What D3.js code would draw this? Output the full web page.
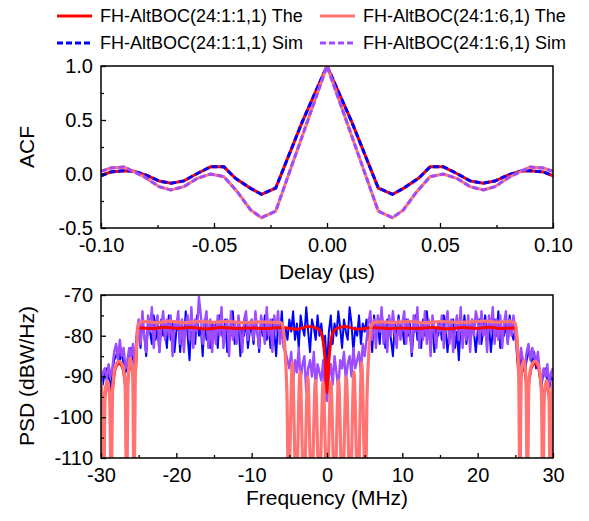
<!DOCTYPE html>
<html>
<head>
<meta charset="utf-8">
<script src="https://cdn.jsdelivr.net/npm/d3@7"></script>
<style>
  body{margin:0;background:#fff}
  svg{font-family:"Liberation Sans",Arial,sans-serif}
</style>
</head>
<body>
<svg id="chart" width="589" height="521"></svg>
<script>
// ---- data ----
const legendLabels = ['FH-AltBOC(24:1:1,1) The','FH-AltBOC(24:1:6,1) The','FH-AltBOC(24:1:1,1) Sim','FH-AltBOC(24:1:6,1) Sim']

// ACF (delay in µs)
const acfDelay11 = [-0.1,-0.0957,-0.0898,-0.0855,-0.08,-0.0743,-0.069,-0.0633,-0.0574,-0.0515,-0.0456,-0.0405,-0.0338,-0.029,-0.0227,-0.011,0,
  0.011,0.0227,0.029,0.0338,0.0405,0.0456,0.0515,0.0574,0.0633,0.069,0.0743,0.08,0.0855,0.0898,0.0957,0.1]
const acf11 = [-0.016,0.019,0.031,0.026,-0.01,-0.065,-0.086,-0.064,0.005,0.066,0.066,-0.04,-0.133,-0.188,-0.13,0.48,1.0,
  0.48,-0.13,-0.188,-0.133,-0.04,0.066,0.066,0.005,-0.064,-0.086,-0.065,-0.01,0.026,0.031,0.019,-0.016]
const acfDelay61 = [-0.1,-0.0957,-0.0898,-0.081,-0.0743,-0.0692,-0.0633,-0.0574,-0.0515,-0.0456,-0.0397,-0.0338,-0.029,-0.0227,0,
  0.0227,0.029,0.0338,0.0397,0.0456,0.0515,0.0574,0.0633,0.0692,0.0743,0.081,0.0898,0.0957,0.1]
const acf61 = [0.025,0.055,0.065,-0.025,-0.117,-0.148,-0.117,-0.04,0.0,-0.025,-0.164,-0.333,-0.405,-0.344,1.0,
  -0.344,-0.405,-0.333,-0.164,-0.025,0.0,-0.04,-0.117,-0.148,-0.117,-0.025,0.065,0.055,0.025]
const acfSim11 = acf11
const acfSim61 = acf61

// PSD theory (frequency in MHz, dBW/Hz)
const psdFreq11 = [-30,-29.65,-29.15,-28.7,-28.1,-27.6,-27.1,-26.6,-26.1,-25.6,-25.4,-25.25,-25.05,-24.8,-23,-21.5,-20,-18,-16,-14,-12,-10,-8,-6,-4,-2.5,-1.3,-0.8,-0.5,-0.25,0,
  0.25,0.5,0.8,1.3,2.5,4,6,8,10,12,14,16,18,20,21.5,23,24.8,25.05,25.25,25.4,25.6,26.1,26.6,27.1,27.6,28.1,28.7,29.15,29.65,30]
const psdThe11 = [-92,-96,-91.5,-95,-88,-86.8,-88,-93,-86,-91,-88,-82,-78.3,-78.1,-78.2,-77.9,-78.2,-78,-78.3,-78,-78.2,-78.1,-78.2,-78,-78.4,-77.7,-78.2,-79.2,-81.5,-86,-94,
  -86,-81.5,-79.2,-78.2,-77.7,-78.4,-78,-78.2,-78.1,-78.2,-78,-78.3,-78,-78.2,-77.9,-78.2,-78.1,-78.3,-82,-88,-91,-86,-93,-88,-86.8,-88,-95,-91.5,-96,-92]
const psdFreq61 = [-30,-29.85,-29.65,-29.45,-29.15,-28.85,-28.65,-28.45,-28.1,-27.6,-27.1,-26.8,-26.6,-26.4,-26.1,-25.8,-25.6,-25.45,-25.25,-25.05,-24.8,
  -24,-22.5,-21,-19,-17,-15,-13,-11,-9,-7,-6.2,-5.9,-5.7,-5.5,-5.3,-5.115,
  -4.6,-4.092,-3.58,-3.069,-2.56,-2.046,-1.53,-1.023,-0.51,0,0.51,1.023,1.53,2.046,2.56,3.069,3.58,4.092,4.6,5.115,
  5.3,5.5,5.7,5.9,6.2,7,9,11,13,15,17,19,21,22.5,24,
  24.8,25.05,25.25,25.45,25.6,25.8,26.1,26.4,26.6,26.8,27.1,27.6,28.1,28.45,28.65,28.85,29.15,29.45,29.65,29.85,30]
const psdThe61 = [-91,-96,-120,-94,-91,-95,-120,-93,-87.5,-86.3,-87.5,-92,-120,-90,-85.5,-89,-120,-90,-82,-77.3,-76.7,
  -76.5,-76.8,-76.4,-76.8,-76.5,-76.7,-76.5,-76.8,-76.6,-76.7,-76.7,-77.5,-80,-86,-96,-120,
  -86.5,-120,-88.8,-120,-90,-120,-90.8,-120,-91.3,-120,-91.3,-120,-90.8,-120,-90,-120,-88.8,-120,-86.5,-120,
  -96,-86,-80,-77.5,-76.7,-76.6,-76.7,-76.5,-76.8,-76.5,-76.7,-76.6,-76.4,-76.7,-76.5,
  -76.7,-77.3,-82,-90,-120,-89,-86,-90,-120,-92,-87.5,-86.3,-87.5,-93,-120,-95,-91,-94,-120,-96,-91]

// PSD simulation, sampled every 0.25 MHz from -30 to 30
const simStep = 0.25
const psdSim11 = [
  -90,-92,-89,-88,-90,-93,-89,-86,-85,-83,-86,-84,-87,-89,-88,-84,-83,-86,-87,-80,
  -78,-83,-76,-80,-85,-77,-79,-82,-75,-81,-78,-84,-76,-80,-79,-83,-75,-81,-77,-84,
  -79,-76,-84,-78,-81,-74,-80,-86,-77,-79,-82,-75,-80,-78,-85,-76,-81,-79,-83,-77,
  -80,-77,-83,-75,-79,-81,-76,-84,-78,-80,-74,-82,-79,-77,-85,-78,-80,-76,-83,-79,
  -78,-82,-76,-79,-84,-77,-80,-75,-81,-78,-83,-76,-79,-85,-77,-80,-74,-82,-78,-81,
  -76,-79,-74,-81,-77,-83,-75,-78,-80,-73,-79,-84,-76,-78,-81,-75,-80,-77,-82,-80,
  -88,-79,-75,-82,-77,-80,-74,-78,-83,-76,-79,-81,-73,-77,-84,-78,-80,-75,-82,-77,
  -79,-76,-81,-78,-84,-75,-80,-77,-82,-74,-79,-83,-76,-78,-81,-85,-77,-80,-75,-79,
  -78,-82,-76,-80,-77,-85,-79,-75,-81,-78,-83,-76,-80,-74,-79,-82,-77,-84,-78,-80,
  -77,-81,-75,-79,-84,-78,-80,-76,-83,-79,-86,-77,-80,-75,-82,-78,-81,-76,-79,-84,
  -79,-76,-82,-78,-75,-81,-77,-84,-79,-76,-80,-74,-83,-78,-80,-77,-82,-75,-79,-81,
  -78,-86,-88,-85,-87,-89,-86,-84,-85,-87,-84,-88,-86,-90,-92,-89,-88,-91,-93,-90,
  -91]
const psdSim61 = [
  -91,-89,-88,-91,-87,-90,-88,-84,-82,-86,-81,-85,-83,-88,-86,-83,-85,-82,-88,-79,
  -76,-82,-74,-80,-84,-75,-79,-73,-83,-77,-75,-84,-78,-74,-81,-76,-80,-75,-85,-77,
  -78,-74,-82,-76,-84,-77,-75,-81,-73,-83,-76,-79,-70.5,-75,-82,-77,-74,-83,-76,-84,
  -77,-82,-75,-80,-73,-83,-78,-76,-85,-74,-81,-77,-82,-75,-79,-84,-76,-74,-81,-77,
  -76,-81,-74,-79,-83,-75,-78,-82,-73,-80,-76,-84,-75,-79,-74,-82,-77,-83,-84,-86,
  -88,-84,-92,-86,-89,-83,-91,-87,-85,-94,-88,-86,-90,-84,-93,-87,-89,-91,-86,-95,
  -96,-90,-87,-92,-85,-89,-93,-86,-88,-84,-91,-87,-85,-90,-83,-88,-86,-84,-89,-82,
  -85,-81,-77,-74,-81,-76,-83,-75,-79,-73,-82,-77,-84,-75,-80,-74,-79,-83,-76,-81,
  -77,-74,-82,-76,-80,-84,-75,-79,-73,-83,-77,-81,-74,-82,-76,-85,-75,-79,-83,-77,
  -79,-75,-83,-77,-74,-82,-76,-84,-78,-75,-81,-73,-83,-77,-81,-75,-84,-76,-80,-74,
  -76,-82,-74,-80,-77,-84,-75,-79,-73,-82,-76,-81,-75,-83,-77,-74,-82,-76,-80,-75,
  -80,-84,-87,-83,-86,-88,-84,-82,-86,-83,-85,-87,-84,-89,-91,-88,-90,-87,-92,-89,
  -88]

// ticks
const acfXMajor = [-0.1,-0.05,0,0.05,0.1], acfXMinor = [-0.075,-0.025,0.025,0.075]
const acfYMajor = [-0.5,0,0.5,1], acfYMinor = [-0.25,0.25,0.75]
const psdXMajor = [-30,-20,-10,0,10,20,30], psdXMinor = [-25,-15,-5,5,15,25]
const psdYMajor = [-110,-100,-90,-80,-70], psdYMinor = [-105,-95,-85,-75]

// ---- styling ----
const C = { red:'#ff0000', pink:'#ff7373', blue:'#0000ff', purple:'#9d4cff' }
const legendStyle = [
  { color:C.red, dash:null }, { color:C.pink, dash:null },
  { color:C.blue, dash:'6,3' }, { color:C.purple, dash:'6,3' }
]
// plain hyphen for negatives, like the original
const fmt = spec => { const f = d3.format(spec); return v => f(v).replace('\u2212','-') }

const svg = d3.select('#chart')
const defs = svg.append('defs')

const xA = d3.scaleLinear([-0.1,0.1],[101,553])
const yA = d3.scaleLinear([-0.5,1],[228,66])
const xP = d3.scaleLinear([-30,30],[101,553])
const yP = d3.scaleLinear([-110,-70],[458,295])

function clip(id, x, y){
  defs.append('clipPath').attr('id', id).append('rect')
    .attr('x', x.range()[0]).attr('y', y.range()[1])
    .attr('width', x.range()[1]-x.range()[0]).attr('height', y.range()[0]-y.range()[1])
}
clip('clipA', xA, yA)
clip('clipP', xP, yP)

function axes(x, y, xMaj, xMin, yMaj, yMin, xFmt, yFmt){
  const g = svg.append('g')
  const bottom = y.range()[0], left = x.range()[0]
  g.append('g').attr('transform', `translate(0,${bottom})`)
    .call(d3.axisBottom(x).tickValues(xMaj).tickSizeInner(-5).tickSizeOuter(0).tickPadding(10).tickFormat(xFmt))
  g.append('g').attr('transform', `translate(0,${bottom})`)
    .call(d3.axisBottom(x).tickValues(xMin).tickSizeInner(-3).tickSizeOuter(0).tickFormat(''))
  g.append('g').attr('transform', `translate(${left},0)`)
    .call(d3.axisLeft(y).tickValues(yMaj).tickSizeInner(-5).tickSizeOuter(0).tickPadding(8).tickFormat(yFmt))
  g.append('g').attr('transform', `translate(${left},0)`)
    .call(d3.axisLeft(y).tickValues(yMin).tickSizeInner(-3).tickSizeOuter(0).tickFormat(''))
  g.selectAll('.domain').remove()
  g.selectAll('.tick line').attr('stroke','#000').attr('stroke-width',1.3)
  g.selectAll('.tick text').attr('font-size', 20).attr('fill','#000').attr('font-family','Liberation Sans, Arial, sans-serif')
  g.append('rect')
    .attr('x', left).attr('y', y.range()[1])
    .attr('width', x.range()[1]-left).attr('height', bottom-y.range()[1])
    .attr('fill','none').attr('stroke','#000').attr('stroke-width',1.5)
}

// ---- ACF panel ----
const gA = svg.append('g').attr('clip-path','url(#clipA)')
const lineOf = (xs, x, y, curve) => d3.line().x((d,i)=>x(xs[i])).y(d=>y(d)).curve(curve||d3.curveLinear)
gA.append('path').attr('d', lineOf(acfDelay11, xA, yA)(acf11))
  .attr('fill','none').attr('stroke',C.red).attr('stroke-width',3)
gA.append('path').attr('d', lineOf(acfDelay11, xA, yA)(acfSim11))
  .attr('fill','none').attr('stroke',C.blue).attr('stroke-width',3).attr('stroke-dasharray','6,3')
gA.append('path').attr('d', lineOf(acfDelay61, xA, yA)(acf61))
  .attr('fill','none').attr('stroke',C.pink).attr('stroke-width',3)
gA.append('path').attr('d', lineOf(acfDelay61, xA, yA)(acfSim61))
  .attr('fill','none').attr('stroke',C.purple).attr('stroke-width',3).attr('stroke-dasharray','6,3')

axes(xA, yA, acfXMajor, acfXMinor, acfYMajor, acfYMinor, fmt('.2f'), fmt('.1f'))

// ---- PSD panel ----
const gP = svg.append('g').attr('clip-path','url(#clipP)')
const simLine = d3.line().x((d,i)=>xP(-30 + i*simStep)).y(d=>yP(d))
gP.append('path').attr('d', simLine(psdSim11))
  .attr('fill','none').attr('stroke',C.blue).attr('stroke-width',2).attr('stroke-linejoin','round')
gP.append('path').attr('d', simLine(psdSim61))
  .attr('fill','none').attr('stroke',C.purple).attr('stroke-width',2.4).attr('stroke-linejoin','round')
gP.append('path').attr('d', lineOf(psdFreq11, xP, yP, d3.curveMonotoneX)(psdThe11))
  .attr('fill','none').attr('stroke',C.red).attr('stroke-width',3)
gP.append('path').attr('d', lineOf(psdFreq61, xP, yP, d3.curveMonotoneX)(psdThe61))
  .attr('fill','none').attr('stroke',C.pink).attr('stroke-width',3.2)

axes(xP, yP, psdXMajor, psdXMinor, psdYMajor, psdYMinor, fmt('d'), fmt('d'))

// ---- titles ----
const title = (txt, x, y, rot) => svg.append('text').text(txt)
  .attr('transform', `translate(${x},${y})` + (rot ? ' rotate(-90)' : ''))
  .attr('text-anchor','middle').attr('font-size',21).attr('fill','#000')
title('ACF', 34, 147, true)
title('Delay (\u00b5s)', 327, 279)
title('PSD (dBW/Hz)', 34, 376, true)
title('Frequency (MHz)', 327, 505)

// ---- legend ----
const colX = [57, 320], rowY = [16, 43]
const lg = svg.append('g').selectAll('g').data(legendLabels).join('g')
  .attr('transform', (d,i) => `translate(${colX[i%2]},${rowY[Math.floor(i/2)]})`)
lg.append('line').attr('x1',0).attr('x2',35).attr('y1',0).attr('y2',0)
  .attr('stroke',(d,i)=>legendStyle[i].color).attr('stroke-width',3)
  .attr('stroke-dasharray',(d,i)=>legendStyle[i].dash)
lg.append('text').text(d=>d).attr('x',43).attr('dy','0.35em').attr('font-size',18).attr('fill','#000')
</script>
</body>
</html>
